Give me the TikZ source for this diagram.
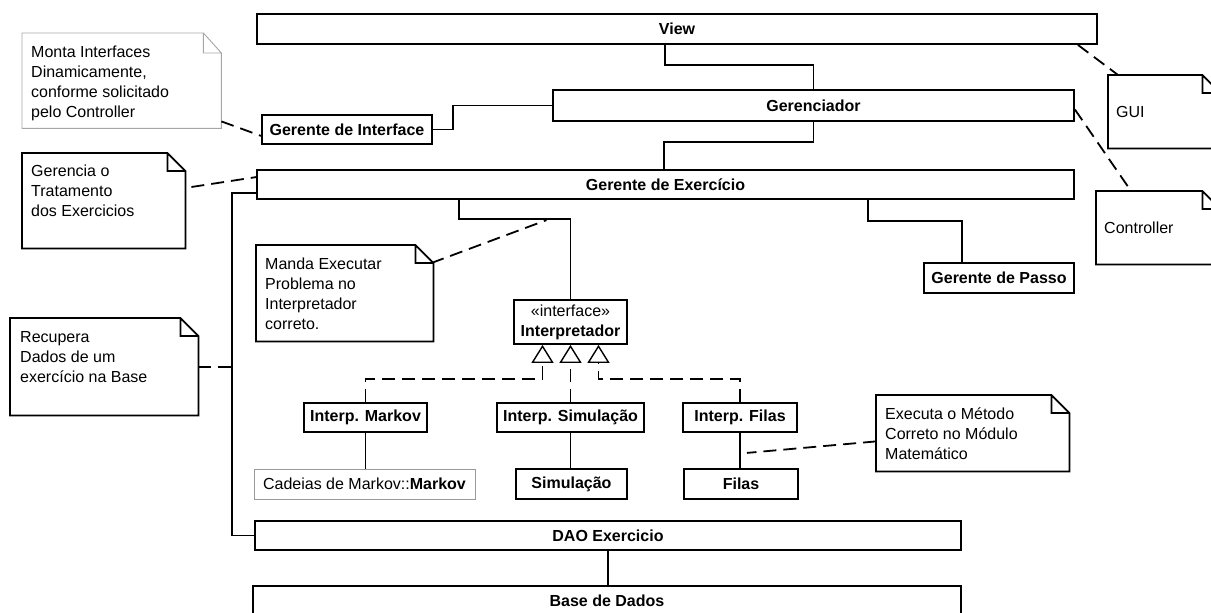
\documentclass[tikz,border=0pt]{standalone}
\usepackage{fontspec}
\setmainfont{Liberation Sans}
\usetikzlibrary{arrows.meta,calc}

\begin{document}
\begin{tikzpicture}[x=1pt, y=-1pt, line cap=butt, line join=miter,
    box/.style={draw, line width=1.8pt, rectangle, inner sep=0pt, font=\fontsize{16}{20}\selectfont\bfseries},
    notebox/.style={rectangle, inner sep=0pt, anchor=north west},
    notetext/.style={inner sep=0pt, align=left, font=\fontsize{16}{20}\selectfont},
    conn/.style={line width=1.8pt},
    dashconn/.style={line width=1.8pt, dash pattern=on 13pt off 7pt},
    gen/.style={-{Triangle[open, length=18pt, width=22pt, line width=1.4pt]}}]
            \useasboundingbox (0,0) rectangle (1211,613);
            \clip (0,0) rectangle (1211,613);

            \node[box, minimum width=840, minimum height=30] (view) at (677,29) {View};
            \node[box, minimum width=521, minimum height=31] (gerenciador) at (813.5,105.5) {Gerenciador};
            \node[box, minimum width=170, minimum height=29] (gint) at (347,129.5) {Gerente de Interface};
            \node[box, minimum width=817, minimum height=29] (gex) at (665.5,184.5) {Gerente de Exercício};
            \node[box, minimum width=150, minimum height=30] (gpasso) at (999,278) {Gerente de Passo};
            \node[box, minimum width=113, minimum height=44, align=center] (interp) at (570.5,322) {\mdseries«interface»\\\bfseries Interpretador};
            \node[box, minimum width=123, minimum height=29] (imarkov) at (365.5,417.5) {Interp. Markov};
            \node[box, minimum width=147, minimum height=29] (isim) at (570.5,417.5) {Interp. Simulação};
            \node[box, minimum width=114, minimum height=29] (ifilas) at (740,417.5) {Interp. Filas};
            \node[box, draw=gray!80, line width=1pt, minimum width=221, minimum height=30] (cadeias) at (364.5,484) {\mdseries Cadeias de Markov::\textbf{Markov}};
            \node[box, minimum width=111, minimum height=30] (simul) at (571.5,484) {Simulação};
            \node[box, minimum width=114, minimum height=30] (filas) at (741,484) {Filas};
            \node[box, minimum width=706, minimum height=29] (dao) at (608,535.5) {DAO Exercicio};
            \node[box, minimum width=708, minimum height=29] (base) at (607,600.5) {Base de Dados};

            \node[notebox, minimum width=199, minimum height=95] (monta) at (22,33) {};
            \node[notebox, minimum width=163, minimum height=95] (gerencia) at (22,153) {};
            \node[notebox, minimum width=177, minimum height=96] (manda) at (256,245) {};
            \node[notebox, minimum width=188, minimum height=97] (recupera) at (10,318) {};
            \node[notebox, minimum width=193, minimum height=76] (executa) at (876,395) {};
            \node[notebox, minimum width=112, minimum height=73] (gui) at (1108,75) {};
            \node[notebox, minimum width=124, minimum height=73] (controller) at (1096,191) {};

            \draw[gray!70, line width=0.9pt] (monta.north west) -- ($(monta.north east)+(-18,0)$) -- ($(monta.north east)+(0,20)$) -- (monta.south east) -- (monta.south west) -- cycle
                ($(monta.north east)+(-18,0)$) |- ($(monta.north east)+(0,20)$);
            \foreach \n in {gerencia,manda,recupera,executa,gui,controller}
                \draw[line width=1.8pt] (\n.north west) -- ($(\n.north east)+(-18,0)$) -- ($(\n.north east)+(0,18)$) -- (\n.south east) -- (\n.south west) -- cycle
                    ($(\n.north east)+(-18,0)$) |- ($(\n.north east)+(0,18)$);

            \node[notetext, anchor=north west] (montaT) at ($(monta.north west)+(9,13)$) {Monta Interfaces\\Dinamicamente,\\conforme solicitado\\pelo Controller};
            \node[notetext, anchor=north west] (gerenciaT) at ($(gerencia.north west)+(9,12)$) {Gerencia o\\Tratamento\\dos Exercicios};
            \node[notetext, anchor=north west] (mandaT) at ($(manda.north west)+(9,13)$) {Manda Executar\\Problema no\\Interpretador\\correto.};
            \node[notetext, anchor=north west] (recuperaT) at ($(recupera.north west)+(10,13)$) {Recupera\\Dados de um\\exercício na Base};
            \node[notetext, anchor=north west] (executaT) at ($(executa.north west)+(9,13)$) {Executa o Método\\Correto no Módulo\\Matemático};
            \node[notetext, anchor=west] (guiT) at ($(gui.west)+(8,0)$) {GUI};
            \node[notetext, anchor=west] (controllerT) at ($(controller.west)+(8,0)$) {Controller};

            \coordinate (bus) at ($(gex.south west)+(-24,-7)$);
            \coordinate (mid) at ($(interp.north)+(0,-80)$);

            \draw[conn] ($(view.south)+(-12,0)$) |- ($(gerenciador.north)+(0,-24)$) -- (gerenciador.north);
            \draw[conn] (gint.east) -- ++(20,0) |- (gerenciador.west);
            \draw[conn] (gerenciador.south) |- ($(gex.north west)+(408,-27)$) -- ($(gex.north west)+(408,0)$);
            \draw[conn] ($(gex.south west)+(203,0)$) |- (mid) -- (interp.north);
            \draw[conn] ($(gex.south west)+(612,0)$) |- ($(gpasso.north)+(-37,-41)$) -- ($(gpasso.north)+(-37,0)$);
            \draw[conn] ($(gex.south west)+(0,-7)$) -- (bus) |- (dao.west);
            \draw[conn] (dao.south) -- (dao.south |- base.north);
            \draw[conn] (imarkov.south) -- (imarkov.south |- cadeias.north);
            \draw[conn] (isim.south) -- (isim.south |- simul.north);
            \draw[conn] (ifilas.south) -- (ifilas.south |- filas.north);

            \draw[dashconn, gen] (imarkov.north) |- ($(interp.south)+(-28,34)$) -- ($(interp.south)+(-28,0)$);
            \draw[dashconn, gen] (isim.north) -- (isim.north |- interp.south);
            \draw[dashconn, gen] (ifilas.north) |- ($(interp.south)+(28,34)$) -- ($(interp.south)+(28,0)$);

            \draw[dashconn] ($(monta.south east)+(0,-7)$) -- ($(gint.south west)+(0,-9)$);
            \draw[dashconn] ($(gerencia.north east)+(6,34)$) -- ($(gex.north west)+(0,8)$);
            \draw[dashconn] (recupera.east) -- (recupera.east -| bus);
            \draw[dashconn] ($(manda.north east)+(-2,18)$) -- ($(mid)+(-24,1)$);
            \draw[dashconn] ($(executa.south west)+(0,-30)$) -- ($(ifilas.south)+(7,20)$);
            \draw[dashconn] ($(view.south east)+(-20,0)$) -- ($(gui.north west)+(10,0)$);
            \draw[dashconn] ($(gerenciador.east)+(0,4)$) -- ($(controller.north west)+(35,0)$);

        \end{tikzpicture}
\end{document}
